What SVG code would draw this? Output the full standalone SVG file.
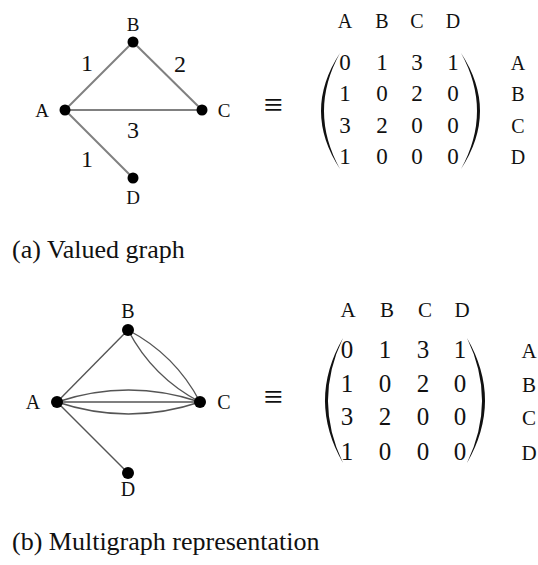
<svg xmlns="http://www.w3.org/2000/svg" width="538" height="565" viewBox="0 0 538 565">
<style>
text{font-family:"Liberation Serif","DejaVu Serif","Times New Roman",serif;fill:#111;text-anchor:middle}
.nl{font-size:19px}
.nl2{font-size:20px}
.w{font-size:24px}
.hd{font-size:20px}
.dg{font-size:23px}
.hd2{font-size:21px}
.dg2{font-size:25px}
.eq{font-size:34px}
.cap{font-size:26px;text-anchor:start}
.e1{stroke:#808080;stroke-width:2;fill:none}
.e2{stroke:#555;stroke-width:1.4;fill:none}
.dot{fill:#000}
.par{fill:#111}
</style>
<rect width="538" height="565" fill="#fff"/>

<!-- (a) Valued graph -->
<g id="edges-a">
<line class="e1" x1="65" y1="110" x2="133" y2="42"/>
<line class="e1" x1="133" y1="42" x2="202" y2="110"/>
<line class="e1" x1="65" y1="110" x2="202" y2="110"/>
<line class="e1" x1="65" y1="110" x2="133" y2="178"/>
<text class="w" x="87" y="71">1</text>
<text class="w" x="180" y="72">2</text>
<text class="w" x="133" y="138">3</text>
<text class="w" x="87" y="167">1</text>
</g>
<g id="a-A"><circle class="dot" cx="65" cy="110" r="5.5"/><text class="nl" x="42" y="117">A</text></g>
<g id="a-B"><circle class="dot" cx="133" cy="42" r="5.5"/><text class="nl" x="133" y="31">B</text></g>
<g id="a-C"><circle class="dot" cx="202" cy="110" r="5.5"/><text class="nl" x="224" y="117">C</text></g>
<g id="a-D"><circle class="dot" cx="133" cy="178" r="5.5"/><text class="nl" x="133" y="204">D</text></g>

<g id="matrix-a">
<text class="eq" x="273" y="116">≡</text>
<text class="hd" x="345" y="28">A</text>
<text class="hd" x="382" y="28">B</text>
<text class="hd" x="417" y="28">C</text>
<text class="hd" x="453" y="28">D</text>
<path class="par" d="M340,53 Q302,111 340,169 Q308,111 340,53 Z"/>
<path class="par" d="M461,53 Q499,111 461,169 Q493,111 461,53 Z"/>
<text class="dg" x="345" y="70">0</text><text class="dg" x="382" y="70">1</text><text class="dg" x="417" y="70">3</text><text class="dg" x="453" y="70">1</text>
<text class="dg" x="345" y="101">1</text><text class="dg" x="382" y="101">0</text><text class="dg" x="417" y="101">2</text><text class="dg" x="453" y="101">0</text>
<text class="dg" x="345" y="133">3</text><text class="dg" x="382" y="133">2</text><text class="dg" x="417" y="133">0</text><text class="dg" x="453" y="133">0</text>
<text class="dg" x="345" y="164">1</text><text class="dg" x="382" y="164">0</text><text class="dg" x="417" y="164">0</text><text class="dg" x="453" y="164">0</text>
<text class="hd" x="518" y="70">A</text>
<text class="hd" x="518" y="101">B</text>
<text class="hd" x="518" y="133">C</text>
<text class="hd" x="518" y="164">D</text>
</g>
<text class="cap" x="12" y="258">(a) Valued graph</text>

<!-- (b) Multigraph -->
<g id="edges-b">
<line class="e2" x1="57" y1="402" x2="128" y2="330"/>
<line class="e2" x1="57" y1="402" x2="128" y2="473"/>
<line class="e2" x1="57" y1="402" x2="200" y2="402"/>
<path class="e2" d="M57,402 Q128.5,378 200,402"/>
<path class="e2" d="M57,402 Q128.5,426 200,402"/>
<path class="e2" d="M128,330 Q175.3,354.7 200,402"/>
<path class="e2" d="M128,330 Q152.7,377.3 200,402"/>
</g>
<g id="b-A"><circle class="dot" cx="57" cy="402" r="6"/><text class="nl2" x="33" y="409">A</text></g>
<g id="b-B"><circle class="dot" cx="128" cy="330" r="6"/><text class="nl2" x="128" y="318">B</text></g>
<g id="b-C"><circle class="dot" cx="200" cy="402" r="6"/><text class="nl2" x="224" y="409">C</text></g>
<g id="b-D"><circle class="dot" cx="128" cy="473" r="6"/><text class="nl2" x="128" y="496">D</text></g>

<g id="matrix-b">
<text class="eq" x="273" y="408">≡</text>
<text class="hd2" x="348" y="317">A</text>
<text class="hd2" x="387" y="317">B</text>
<text class="hd2" x="425" y="317">C</text>
<text class="hd2" x="462" y="317">D</text>
<path class="par" d="M343,338 Q307,400.5 343,463 Q313,400.5 343,338 Z"/>
<path class="par" d="M467,338 Q503,400.5 467,463 Q497,400.5 467,338 Z"/>
<text class="dg2" x="347" y="358">0</text><text class="dg2" x="385" y="358">1</text><text class="dg2" x="423" y="358">3</text><text class="dg2" x="460" y="358">1</text>
<text class="dg2" x="347" y="392">1</text><text class="dg2" x="385" y="392">0</text><text class="dg2" x="423" y="392">2</text><text class="dg2" x="460" y="392">0</text>
<text class="dg2" x="347" y="425">3</text><text class="dg2" x="385" y="425">2</text><text class="dg2" x="423" y="425">0</text><text class="dg2" x="460" y="425">0</text>
<text class="dg2" x="347" y="460">1</text><text class="dg2" x="385" y="460">0</text><text class="dg2" x="423" y="460">0</text><text class="dg2" x="460" y="460">0</text>
<text class="hd2" x="529" y="358">A</text>
<text class="hd2" x="529" y="392">B</text>
<text class="hd2" x="529" y="425">C</text>
<text class="hd2" x="529" y="460">D</text>
</g>
<text class="cap" x="12" y="550">(b) Multigraph representation</text>
</svg>
